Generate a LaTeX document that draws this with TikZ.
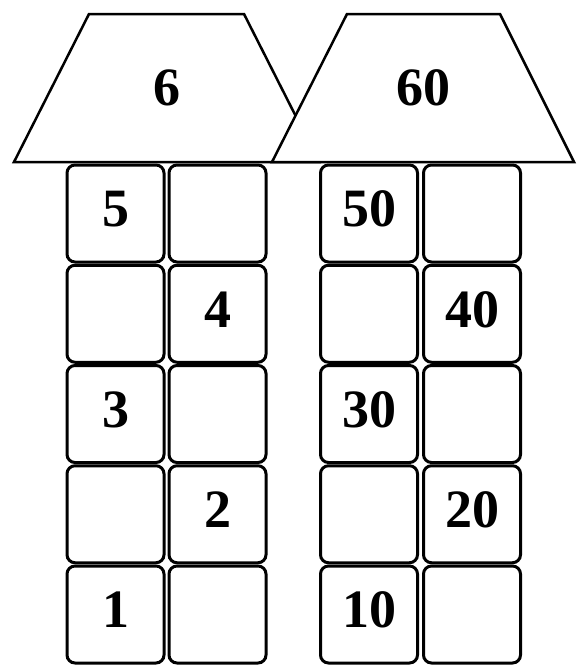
\documentclass[tikz,border=0pt]{standalone}
\usepackage{fontspec}
\setmainfont{Liberation Serif}

\begin{document}
\begin{tikzpicture}[
x=1pt,y=-1pt,
roof/.style={
draw,
line width=2.5pt,
line join=miter,
fill=white},
label/.style={
inner sep=0pt,
font=\bfseries\fontsize{54}{54}\selectfont},
cell/.style={
draw,
rounded corners=8pt,
line width=3pt,
minimum size=97pt,
inner sep=0pt,
text depth=9pt,
font=\bfseries\fontsize{54}{54}\selectfont}
]
\useasboundingbox (0,0) rectangle (579,665);

% left house
\foreach \a/\b[count=\i] in {5/{},{}/4,3/{},{}/2,1/{}}{
\node[cell] (l\i a) at (115.5,{113.25+100.25*\i}) {\a};
\node[cell] (l\i b) at (217.5,{113.25+100.25*\i}) {\b};
}
% right house
\foreach \a/\b[count=\i] in {50/{},{}/40,30/{},{}/20,10/{}}{
\node[cell] (r\i a) at (369,{113.25+100.25*\i}) {\a};
\node[cell] (r\i b) at (472,{113.25+100.25*\i}) {\b};
}

% roofs
\draw[roof] (14,162)--(89,14)--(244,14)--(319,162)--cycle;
\node[label] (lroof) at (166.5,88) {6};
\draw[roof] (272,162)--(347,14)--(500,14)--(574,162)--cycle;
\node[label] (rroof) at (423,88) {60};

\end{tikzpicture}
\end{document}
